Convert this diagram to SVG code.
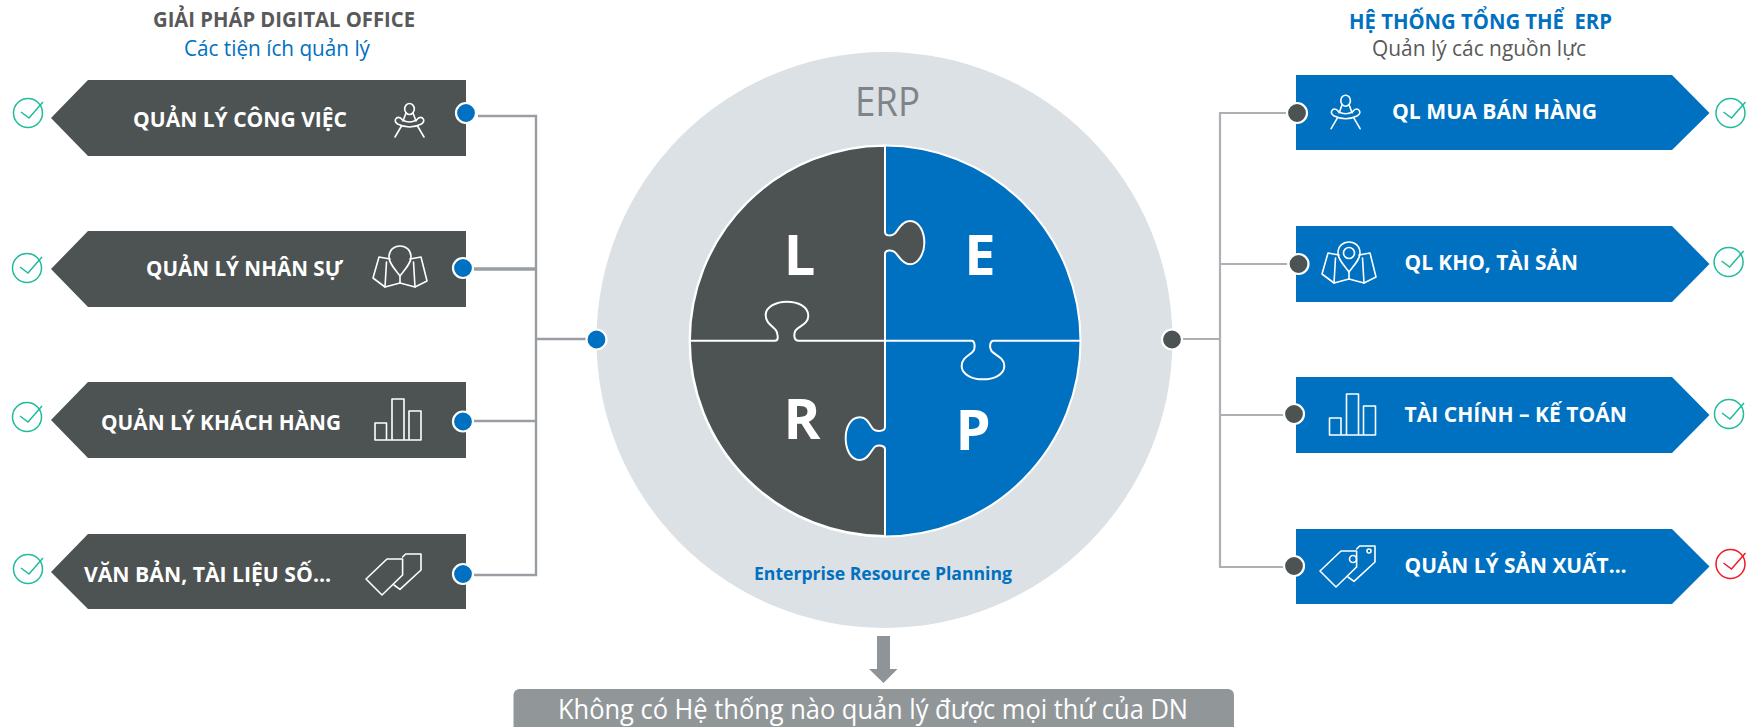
<svg xmlns="http://www.w3.org/2000/svg" width="1750" height="727" viewBox="0 0 1750 727">
<style>
text{font-family:"Open Sans","Noto Sans","Liberation Sans",sans-serif;white-space:pre}
.bt{font-size:22px;font-weight:700;fill:#fff}
.ttl{font-size:21px;font-weight:700}
.sub{font-size:22.5px;font-weight:400}
.dark{fill:#4d5252}.blue{fill:#0070c0}
.ic{fill:none;stroke:#fff;stroke-width:1.6;stroke-linejoin:round;stroke-linecap:round}
.ln{fill:none;stroke:#9a9ea2;stroke-width:2.4}
.lnr{fill:none;stroke:#adb1b5;stroke-width:2.2}
.dot{stroke:#fff;stroke-width:2.2}
.ck{fill:none;stroke:#1fbb9b;stroke-width:1.5}
.ckr{fill:none;stroke:#ee1c25;stroke-width:1.5}
.ltr{font-size:56px;font-weight:700;fill:#fff}
</style>
<defs>
<g id="chair" class="ic"><ellipse cx="0" cy="0" rx="4.8" ry="5.5"/><path d="M-3.5,4 L-6.5,12 M3.5,4 L6.5,12"/><path d="M-13,9 Q-16,12 -12,15 Q0,21 12,15 Q16,12 13,9 Q10,7 7,11 Q0,15 -7,11 Q-10,7 -13,9Z"/><path d="M-8,17 L-14.5,28 M8,17 L14.5,28"/></g>
<g id="map" class="ic"><path d="M400,276 C394,268 389,263 389,257 C389,250 394,246 400,246 C406,246 411,250 411,257 C411,263 406,268 400,276Z"/><path d="M390,259 L379,257 L373,278 L385,287 L400,283 L415,287 L427,281 L421,257 L410,259"/><path d="M386.5,262 L385,287 M400,276 V283 M413.5,262 L415,287"/></g>
<g id="bars" class="ic"><path d="M375,440 V423 H386.5 V440Z M392,440 V399 H404 V440Z M409,440 V411 H421 V440Z M375,440 H421"/></g>
<g id="tag" class="ic"><path d="M387,559 H402.6 V575 L382,595 L366,579Z"/><path d="M402.6,557 L405.7,554 H421 V570 L400,589.3 L394,585"/></g>
</defs>

<g id="erp-circle">
<circle cx="884.5" cy="340" r="288" fill="#dce1e5"/>
<text x="887.5" y="116" text-anchor="middle" font-size="40" fill="#808488" textLength="65" lengthAdjust="spacingAndGlyphs">ERP</text>
<text x="883" y="580" text-anchor="middle" font-size="18" font-weight="700" fill="#0070c0" textLength="258" lengthAdjust="spacingAndGlyphs">Enterprise Resource Planning</text>
</g>

<g id="puzzle">
<circle cx="885" cy="341" r="195.5" fill="#0070c0" stroke="#fff" stroke-width="2"/>
<g transform="translate(660,130) scale(0.33333)" stroke="#fff" stroke-width="6" fill="none">
<path fill="#4d5252" d="M675,47 V305 C675,318 695,320 705,310 C715,300 725,273 750,273 C780,273 793,310 793,338 C793,370 775,403 750,403 C725,403 715,375 705,367 C695,358 675,360 675,372 V632 V890 C675,905 650,906 640,898 C630,890 625,862 600,862 C570,862 557,895 557,925 C557,955 570,990 600,990 C625,990 635,958 645,950 C655,945 675,945 675,958 V1218 A585.5,585.5 0 0 1 675,47 Z"/>
<path d="M90,632 H345 C355,632 355,620 350,605 C345,590 317,585 317,555 C317,530 350,515 380,515 C415,515 445,530 445,557 C445,585 410,590 405,605 C400,620 405,632 415,632 H675"/>
<path d="M675,632 H935 C945,632 945,650 942,660 C935,675 905,680 905,708 C905,735 940,748 968,748 C1000,748 1033,735 1033,708 C1033,680 1000,675 993,660 C988,650 990,632 1000,632 H1260"/>
</g>
<text class="ltr" x="799.5" y="275" text-anchor="middle">L</text>
<text class="ltr" x="980" y="275" text-anchor="middle">E</text>
<text class="ltr" x="802" y="439" text-anchor="middle">R</text>
<text class="ltr" x="973" y="450" text-anchor="middle">P</text>
</g>

<g id="connectors">
<path class="ln" d="M478,116 H536 V575 H474"/>
<path class="ln" style="stroke-width:3.6" d="M474,269 H536"/>
<path class="ln" d="M474,421 H536"/>
<path class="ln" d="M536,339 H590"/>
<path class="lnr" d="M1286,113 H1220 V567 H1285"/>
<path class="lnr" d="M1287,264 H1220 M1283,415 H1220 M1172,339 H1220"/>
</g>

<g id="title-left">
<text class="ttl" x="284" y="27" text-anchor="middle" fill="#595959" textLength="262" lengthAdjust="spacingAndGlyphs">GIẢI PHÁP DIGITAL OFFICE</text>
<text class="sub" x="277" y="56" text-anchor="middle" fill="#0070c0" textLength="186" lengthAdjust="spacingAndGlyphs">Các tiện ích quản lý</text>
</g>
<g id="title-right">
<text class="ttl" x="1480.5" y="29" text-anchor="middle" fill="#0070c0" textLength="263" lengthAdjust="spacingAndGlyphs">HỆ THỐNG TỔNG THỂ  ERP</text>
<text class="sub" x="1479" y="56" text-anchor="middle" fill="#595959" textLength="214" lengthAdjust="spacingAndGlyphs">Quản lý các nguồn lực</text>
</g>

<g id="left-1">
<path class="dark" d="M88,80 H466 V156 H88 L51,118Z"/>
<text class="bt" x="133" y="126.5" textLength="214" lengthAdjust="spacingAndGlyphs">QUẢN LÝ CÔNG VIỆC</text>
<use href="#chair" x="409.5" y="109"/>
<circle class="blue dot" cx="466" cy="113" r="10"/>
<circle class="ck" cx="28" cy="113" r="14.5"/><path class="ck" d="M21,112 L29,118 L43,102"/>
</g>
<g id="left-2">
<path class="dark" d="M88,231 H466 V307 H88 L51,269Z"/>
<text class="bt" x="146" y="276" textLength="197" lengthAdjust="spacingAndGlyphs">QUẢN LÝ NHÂN SỰ</text>
<use href="#map"/>
<circle class="blue dot" cx="463" cy="268" r="10"/>
<circle class="ck" cx="27" cy="268" r="14.5"/><path class="ck" d="M20,267 L28,273 L42,257"/>
</g>
<g id="left-3">
<path class="dark" d="M88,382 H466 V458 H88 L51,420Z"/>
<text class="bt" x="101" y="430" textLength="240" lengthAdjust="spacingAndGlyphs">QUẢN LÝ KHÁCH HÀNG</text>
<use href="#bars"/>
<circle class="blue dot" cx="463" cy="421.5" r="10"/>
<circle class="ck" cx="27" cy="417" r="14.5"/><path class="ck" d="M20,416 L28,422 L42,406"/>
</g>
<g id="left-4">
<path class="dark" d="M88,534 H466 V609 H88 L51,572Z"/>
<text class="bt" x="84" y="582" textLength="247" lengthAdjust="spacingAndGlyphs">VĂN BẢN, TÀI LIỆU SỐ…</text>
<use href="#tag"/>
<circle class="blue dot" cx="463" cy="574" r="10"/>
<circle class="ck" cx="28" cy="569" r="14.5"/><path class="ck" d="M21,568 L29,574 L43,558"/>
</g>

<g id="right-1">
<path class="blue" d="M1296,75 H1672 L1709.5,113 L1672,150 H1296Z"/>
<text class="bt" x="1392" y="119" textLength="205" lengthAdjust="spacingAndGlyphs">QL MUA BÁN HÀNG</text>
<use href="#chair" x="1345.6" y="100.7"/>
<circle class="dark dot" cx="1297" cy="113" r="10"/>
<circle class="ck" cx="1730.5" cy="113" r="14.5"/><path class="ck" d="M1723.5,112 L1731.5,118 L1745.5,102"/>
</g>
<g id="right-2">
<path class="blue" d="M1296,226 H1672 L1709.5,264 L1672,302 H1296Z"/>
<text class="bt" x="1404.5" y="270" textLength="173.5" lengthAdjust="spacingAndGlyphs">QL KHO, TÀI SẢN</text>
<use href="#map" x="949" y="-4"/><circle class="ic" cx="1349" cy="253" r="5.5"/>
<circle class="dark dot" cx="1298.5" cy="264" r="10"/>
<circle class="ck" cx="1728.6" cy="262" r="14.5"/><path class="ck" d="M1721.6,261 L1729.6,267 L1743.6,251"/>
</g>
<g id="right-3">
<path class="blue" d="M1296,377 H1672 L1709.5,415 L1672,453 H1296Z"/>
<text class="bt" x="1404.5" y="421.7" textLength="222.5" lengthAdjust="spacingAndGlyphs">TÀI CHÍNH – KẾ TOÁN</text>
<use href="#bars" x="954.5" y="-5"/>
<circle class="dark dot" cx="1294" cy="414" r="10"/>
<circle class="ck" cx="1729" cy="414" r="14.5"/><path class="ck" d="M1722,413 L1730,419 L1744,403"/>
</g>
<g id="right-4">
<path class="blue" d="M1296,529 H1672 L1709.5,566.5 L1672,604 H1296Z"/>
<text class="bt" x="1404.5" y="572.7" textLength="222" lengthAdjust="spacingAndGlyphs">QUẢN LÝ SẢN XUẤT…</text>
<use href="#tag" x="954" y="-8"/><circle class="ic" cx="1353" cy="559" r="3.5"/><circle class="ic" cx="1369" cy="551" r="2"/>
<circle class="dark dot" cx="1294" cy="566" r="10"/>
<circle class="ckr" cx="1730.5" cy="564" r="14.5"/><path class="ckr" d="M1723.5,563 L1731.5,569 L1745.5,553"/>
</g>

<g id="hub-left"><circle class="blue dot" cx="596.5" cy="339.5" r="10"/></g>
<g id="hub-right"><circle class="dark dot" cx="1172" cy="339.5" r="10"/></g>

<g id="arrow"><path fill="#8f9498" d="M877,636 H890 V669 H897.5 L883.5,683 L869,669 H877Z"/></g>
<g id="conclusion">
<rect x="513.5" y="689" width="720.5" height="50" rx="6" fill="#919699"/>
<text x="873" y="719" text-anchor="middle" font-size="27" fill="#fff" textLength="630" lengthAdjust="spacingAndGlyphs">Không có Hệ thống nào quản lý được mọi thứ của DN</text>
</g>
</svg>
